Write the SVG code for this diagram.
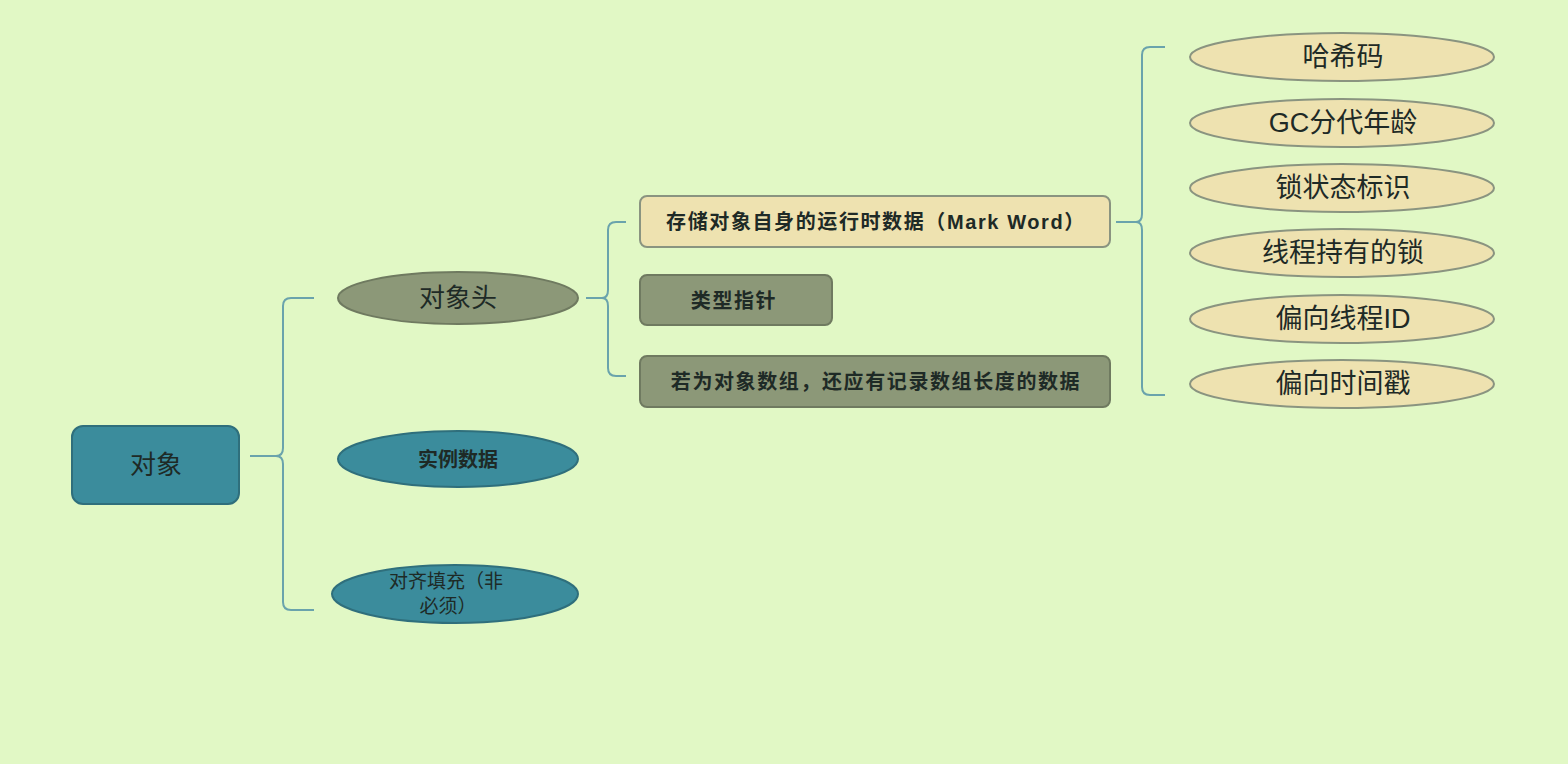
<svg xmlns="http://www.w3.org/2000/svg" width="1568" height="764" viewBox="0 0 1568 764">
<style>
.t{font-family:"Liberation Sans","Noto Sans CJK SC",sans-serif;fill:#1e2a26;text-anchor:middle;dominant-baseline:central}
.s{font-size:20px;letter-spacing:1.6px;font-weight:bold}
.teal{fill:#3b8c9c;stroke:#2f6f7c;stroke-width:2}
.olive{fill:#8c9878;stroke:#6f7a60;stroke-width:2}
.tan{fill:#eee2b0;stroke:#8a9480;stroke-width:2}
.c{fill:none;stroke:#6aa3ac;stroke-width:2}
</style>
<rect width="1568" height="764" fill="#e1f8c5"/>
<g id="connectors">
<path class="c" d="M250 456 H276 Q283 456 283 448 V306 Q283 298 291 298 H314"/>
<path class="c" d="M276 456 Q283 456 283 464 V602 Q283 610 291 610 H314"/>
<path class="c" d="M586 298 H602 Q608 298 608 290 V230 Q608 222 616 222 H626"/>
<path class="c" d="M602 298 Q608 298 608 306 V368 Q608 376 616 376 H626"/>
<path class="c" d="M1116 222 H1136 Q1142 222 1142 214 V55 Q1142 47 1150 47 H1165"/>
<path class="c" d="M1136 222 Q1142 222 1142 230 V387 Q1142 395 1150 395 H1165"/>
</g>
<g id="n-obj"><rect class="teal" x="72" y="426" width="167" height="78" rx="11"/><text class="t" x="156" y="465" font-size="26">对象</text></g>
<g id="n-head"><ellipse class="olive" cx="458" cy="298" rx="120" ry="26"/><text class="t" x="458" y="298" font-size="26">对象头</text></g>
<g id="n-inst"><ellipse class="teal" cx="458" cy="459" rx="120" ry="28"/><text class="t" x="458" y="460" font-size="20" font-weight="bold">实例数据</text></g>
<g id="n-pad"><ellipse class="teal" cx="455" cy="594" rx="123" ry="29"/><text class="t" x="446" y="581" font-size="19">对齐填充（非</text><text class="t" x="448" y="606" font-size="19">必须）</text></g>
<g id="n-mark"><rect class="tan" x="640" y="196" width="470" height="51" rx="7"/><text class="t s" x="876" y="222">存储对象自身的运行时数据（Mark Word）</text></g>
<g id="n-klass"><rect class="olive" x="640" y="275" width="192" height="50" rx="7"/><text class="t s" x="734" y="301">类型指针</text></g>
<g id="n-arr"><rect class="olive" x="640" y="356" width="470" height="51" rx="7"/><text class="t s" x="876" y="382">若为对象数组，还应有记录数组长度的数据</text></g>
<g id="n-hash"><ellipse class="tan" cx="1342" cy="57" rx="152" ry="24"/><text class="t" x="1343" y="57" font-size="27">哈希码</text></g>
<g id="n-gc"><ellipse class="tan" cx="1342" cy="123" rx="152" ry="24"/><text class="t" x="1343" y="123" font-size="27">GC分代年龄</text></g>
<g id="n-lock"><ellipse class="tan" cx="1342" cy="188" rx="152" ry="24"/><text class="t" x="1343" y="188" font-size="27">锁状态标识</text></g>
<g id="n-held"><ellipse class="tan" cx="1342" cy="253" rx="152" ry="24"/><text class="t" x="1343" y="253" font-size="27">线程持有的锁</text></g>
<g id="n-tid"><ellipse class="tan" cx="1342" cy="319" rx="152" ry="24"/><text class="t" x="1343" y="319" font-size="27">偏向线程ID</text></g>
<g id="n-ts"><ellipse class="tan" cx="1342" cy="384" rx="152" ry="24"/><text class="t" x="1343" y="384" font-size="27">偏向时间戳</text></g>
</svg>
